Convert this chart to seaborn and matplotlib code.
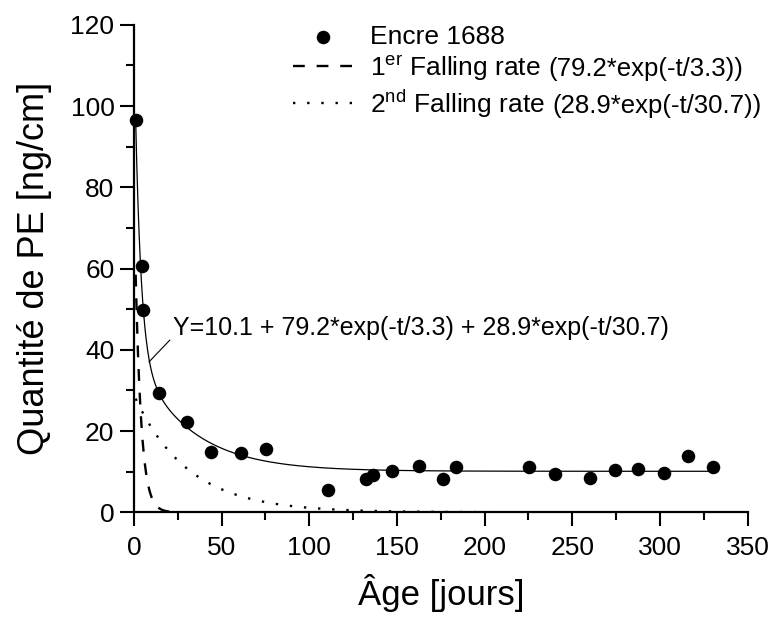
import seaborn as sns
import pandas as pd
import matplotlib.pyplot as plt
import numpy as np
from matplotlib.ticker import MultipleLocator

# measured points (Encre 1688)
age = [1.0, 4.4, 5.3, 14.4, 30.4, 44.1, 61.0, 75.1, 110.4, 132.1, 136.4, 147.4,
       162.3, 176.0, 183.4, 225.2, 240.2, 260.0, 274.2, 287.2, 302.2, 316.2, 330.3]
pe = [96.5, 60.7, 49.7, 29.3, 22.2, 14.9, 14.5, 15.7, 5.5, 8.2, 9.2, 10.1,
      11.5, 8.2, 11.1, 11.1, 9.4, 8.5, 10.4, 10.6, 9.6, 13.9, 11.1]

# fitted model parameters, as printed on the chart
y0, a1, tau1, a2, tau2 = 10.1, 79.2, 3.3, 28.9, 30.7

sns.set_style("ticks")
plt.rcParams['font.family'] = ['Liberation Sans', 'DejaVu Sans']
plt.rcParams['mathtext.fontset'] = 'custom'
plt.rcParams['mathtext.rm'] = 'Liberation Sans'
for k in ['text.color', 'axes.labelcolor', 'xtick.color', 'ytick.color', 'axes.edgecolor']:
    plt.rcParams[k] = 'black'

data = pd.DataFrame({'Age': age, 'PE': pe})
t = np.linspace(1.0, 330, 2000)
fit = pd.DataFrame({'t': t,
                    'total': y0 + a1*np.exp(-t/tau1) + a2*np.exp(-t/tau2),
                    'first': a1*np.exp(-t/tau1),
                    'second': a2*np.exp(-t/tau2)})

fig = plt.figure(figsize=(7.74, 6.21), dpi=100)
ax = fig.add_axes([0.173, 0.175, 0.793, 0.785])

sns.lineplot(ax=ax, data=fit, x='t', y='total', color='black', linewidth=0.9)
sns.lineplot(ax=ax, data=fit, x='t', y='first', color='black', linewidth=1.7,
             label='1$^{\\mathrm{er}}$ Falling rate')
ax.lines[-1].set_linestyle((0, (5, 5)))
sns.lineplot(ax=ax, data=fit, x='t', y='second', color='black', linewidth=1.7,
             label='2$^{\\mathrm{nd}}$ Falling rate')
ax.lines[-1].set_linestyle((0, (1, 5)))
sns.scatterplot(ax=ax, data=data, x='Age', y='PE', color='black', s=95,
                edgecolor='black', linewidth=0, zorder=5, label='Encre 1688', clip_on=False)

ax.set_xlim(0, 350)
ax.set_ylim(0, 120)
ax.xaxis.set_major_locator(MultipleLocator(50))
ax.xaxis.set_minor_locator(MultipleLocator(25))
ax.yaxis.set_major_locator(MultipleLocator(20))
ax.yaxis.set_minor_locator(MultipleLocator(10))
ax.tick_params(which='major', length=10, width=1.5, labelsize=19, colors='black')
ax.tick_params(which='minor', length=5.5, width=1.5)
ax.tick_params(axis='x', which='major', pad=7)
ax.tick_params(axis='y', which='major', pad=4)
for s in ['left', 'bottom']:
    ax.spines[s].set_linewidth(1.6)
sns.despine(ax=ax)

ax.set_xlabel('Âge [jours]', fontsize=25, labelpad=10)
ax.set_ylabel('Quantité de PE [ng/cm]', fontsize=26, labelpad=13)

ax.text(22.2, 43.7, 'Y=10.1 + 79.2*exp(-t/3.3) + 28.9*exp(-t/30.7)',
        fontsize=18, va='baseline', ha='left')
ax.annotate('', xy=(8.55, 37.0), xytext=(20.5, 42.4),
            arrowprops=dict(arrowstyle='-', color='black', lw=0.8, shrinkA=0, shrinkB=0))

handles, labels = ax.get_legend_handles_labels()
order = [2, 0, 1]
leg = ax.legend([handles[i] for i in order], [labels[i] for i in order],
                loc='upper left', bbox_to_anchor=(293/774, 1 - 25/621),
                bbox_transform=fig.transFigure, frameon=False, borderpad=0,
                borderaxespad=0, fontsize=19, handlelength=2.25,
                handletextpad=0.65, labelspacing=0.15)

fig.canvas.draw()
extra = ['', '(79.2*exp(-t/3.3))', '(28.9*exp(-t/30.7))']
for txt, add in zip(leg.get_texts(), extra):
    if add:
        bb = txt.get_window_extent()
        fig.text(bb.x1 + 8, bb.y0 + 2, add, fontsize=18.5, ha='left', va='bottom',
                 transform=None)

fig.savefig('out.png', dpi=100)
